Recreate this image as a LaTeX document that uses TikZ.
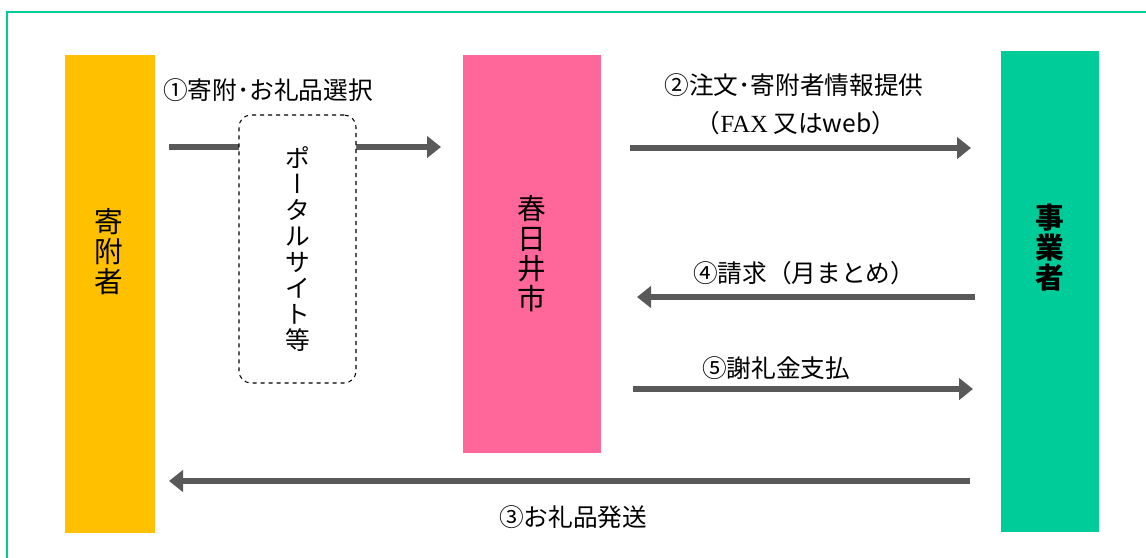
\documentclass[tikz,border=0pt]{standalone}
\usepackage{fontspec}
\setmainfont{Noto Sans CJK JP}
\newfontfamily\vertfont[RawFeature=+vert]{Noto Sans CJK JP}
\newfontfamily\faxfont{Liberation Serif}
\usetikzlibrary{arrows.meta}
\definecolor{donorc}{HTML}{FFC000}
\definecolor{cityc}{HTML}{FF6699}
\definecolor{vendorc}{HTML}{00CC99}
\definecolor{flowc}{HTML}{595959}

\begin{document}
\begin{tikzpicture}[x=0.75pt,y=-0.75pt,
        party/.style={rectangle,inner sep=0pt,draw=none},
        flow/.style={draw=flowc,line width=5.2pt,-{Triangle[length=10.5pt,width=16pt]}},
        lbl/.style={inner sep=0pt,font=\fontsize{18.5}{22}\selectfont},
        vlbl/.style={inner sep=0pt,align=center,font=\fontsize{21.5}{22.5}\selectfont}]
        \clip (0,0) rectangle (1146,557);
        % frame
        \draw[vendorc,line width=1.6pt] (7,12) rectangle (1170,590);
        % Define the three parties
        \node[party,fill=donorc,minimum width=67.5pt,minimum height=358.5pt]   (donor)  at (110,294)   {};
        \node[party,fill=cityc,minimum width=103.5pt,minimum height=298.5pt]  (city)   at (532,254)   {};
        \node[party,fill=vendorc,minimum width=73.5pt,minimum height=360.75pt] (vendor) at (1050,291.5) {};
        \node[vlbl] (donortxt)  at (109,252)  {寄\\附\\者};
        \node[vlbl] (citytxt)   at (532,254)  {春\\日\\井\\市};
        \node[vlbl,font=\fontsize{21.5}{22.5}\selectfont\bfseries] (vendortxt) at (1050,248) {事\\業\\者};
        % Define the arrow ends
        \coordinate (o1) at (169,147); \coordinate (e1) at (441,147);
        \coordinate (o2) at (630,148); \coordinate (e2) at (971,148);
        \coordinate (o4) at (975,297); \coordinate (e4) at (637,297);
        \coordinate (o5) at (633,389); \coordinate (e5) at (973,389);
        \coordinate (o3) at (970,481); \coordinate (e3) at (169,481);
        % Connect the parties
        \draw[flow] (o1) -- (e1);
        \draw[flow] (o2) -- (e2);
        \draw[flow] (o4) -- (e4);
        \draw[flow] (o5) -- (e5);
        \draw[flow] (o3) -- (e3);
        % portal box on top of the first arrow
        \node[rectangle,draw,dashed,fill=white,rounded corners=9pt,line width=0.8pt,
              minimum width=87.75pt,minimum height=201pt,align=center,
              font=\fontsize{18.5}{19.5}\selectfont] (portal) at (297.5,249)
              {ポ\\{\vertfont ー}\\タ\\ル\\サ\\イ\\ト\\等};
        % labels
        \node[lbl,anchor=west] (l1) at (163,90) {①寄附･お礼品選択};
        \node[lbl] (l2)  at (794,85)  {②注文･寄附者情報提供};
        \node[lbl] (l2b) at (796,123) {（{\faxfont FAX} 又はweb）};
        \node[lbl] (l4)  at (804,273) {④請求（月まとめ）};
        \node[lbl] (l5)  at (776,368) {⑤謝礼金支払};
        \node[lbl] (l3)  at (573,517) {③お礼品発送};
\end{tikzpicture}
\end{document}
